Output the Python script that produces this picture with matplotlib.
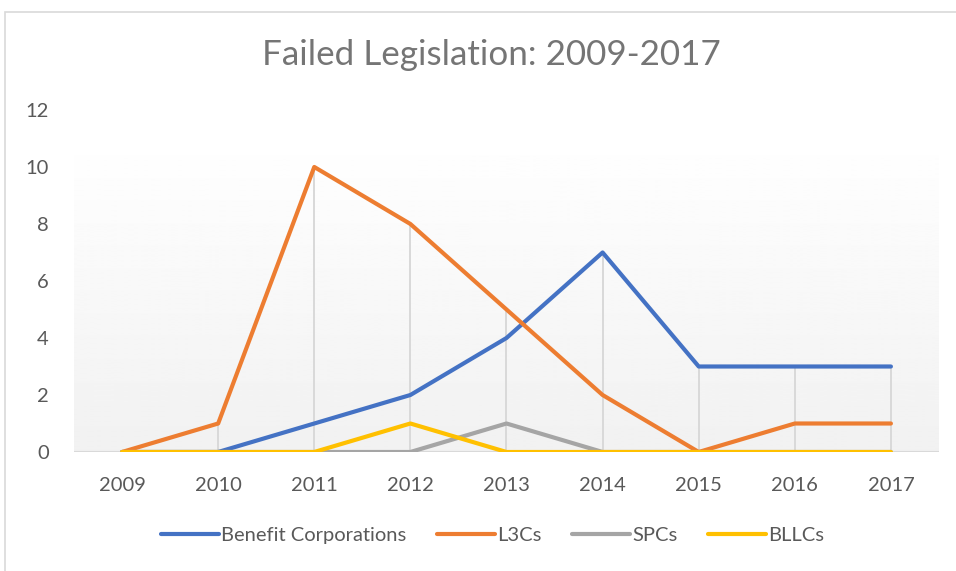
import numpy as np
import matplotlib.pyplot as plt
from matplotlib.patches import Rectangle

years = ["2009", "2010", "2011", "2012", "2013", "2014", "2015", "2016", "2017"]
benefit = [0, 0, 1, 2, 4, 7, 3, 3, 3]
l3c = [0, 1, 10, 8, 5, 2, 0, 1, 1]
spc = [0, 0, 0, 0, 1, 0, 0, 0, 0]
bllc = [0, 0, 0, 1, 0, 0, 0, 0, 0]

series = [
    ("Benefit Corporations", benefit, "#4472C4"),
    ("L3Cs", l3c, "#ED7D31"),
    ("SPCs", spc, "#A5A5A5"),
    ("BLLCs", bllc, "#FFC000"),
]

plt.rcParams['font.family'] = ['Lato', 'DejaVu Sans']

fig = plt.figure(figsize=(9.56, 5.71), dpi=100)
ax = fig.add_axes([0.0774, 0.2084, 0.9048, 0.599])

x = np.arange(len(years))

# gradient background of the plot area
grad = np.linspace(1.0, 0.945, 256).reshape(-1, 1)
ax.imshow(grad, cmap="gray", vmin=0, vmax=1, aspect="auto",
          extent=(-0.5, 8.5, 0, 11.2), zorder=0)

# drop lines
top = np.max([benefit, l3c, spc, bllc], axis=0)
ax.vlines(x, 0, top, color="#d9d9d9", lw=1.4, zorder=1)
ax.axhline(0, color="#d9d9d9", lw=1.5, zorder=1)

for label, vals, col in series:
    ax.plot(x, vals, color=col, lw=3.0, label=label, solid_capstyle="round", zorder=3)

ax.set_xlim(-0.5, 8.5)
ax.set_ylim(0, 12)
ax.set_yticks(range(0, 13, 2))
ax.set_xticks(x)
ax.set_xticklabels(years)
ax.tick_params(length=0, labelsize=14.5, labelcolor="#595959")
ax.tick_params(axis="y", pad=18)
ax.tick_params(axis="x", pad=18)
for s in ax.spines.values():
    s.set_visible(False)

fig.text(0.514, 0.903, "Failed Legislation: 2009-2017", ha="center", va="center",
         fontsize=25.2, color="#757575")

fig.legend(loc="center", bbox_to_anchor=(0.515, 0.063), ncol=4, frameon=False,
           fontsize=14.5, labelcolor="#595959", handlelength=2.9, handletextpad=0.1,
           columnspacing=1.5)

# chart border
fig.patches.append(Rectangle((5 / 956, -0.1), 1.2, 1 - 12 / 571 + 0.1,
                             transform=fig.transFigure, fill=False,
                             edgecolor="#d9d9d9", lw=1.2))

fig.savefig("out.png", dpi=100)
